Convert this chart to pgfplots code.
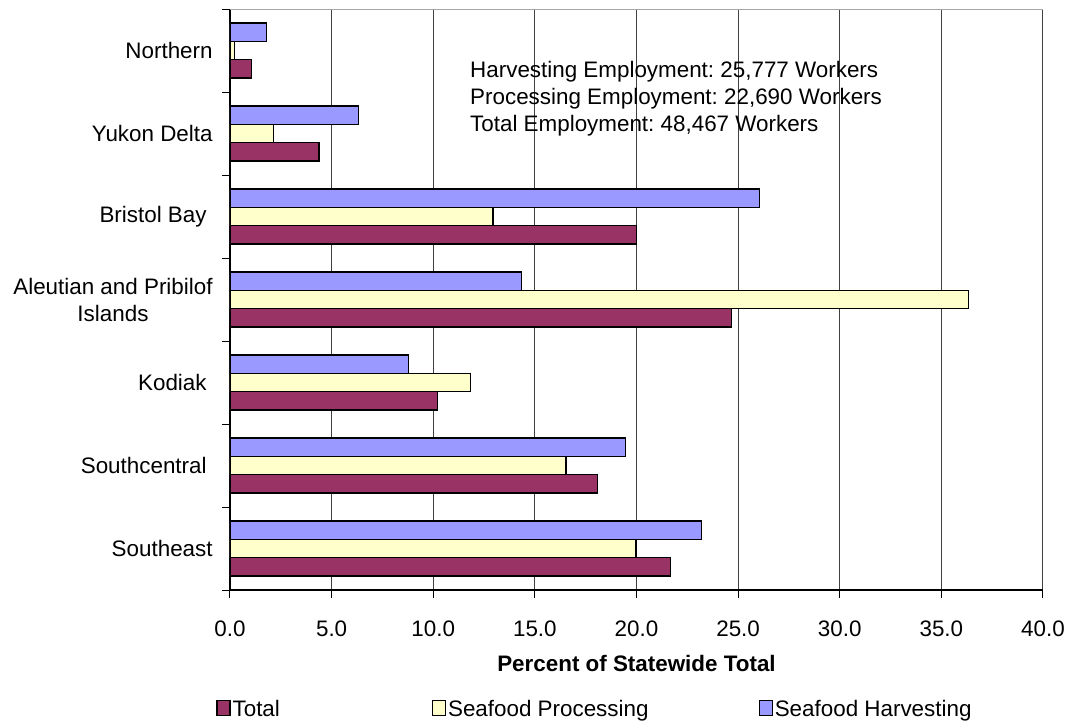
\documentclass[border=0pt]{standalone}
\usepackage{fontspec}
\setmainfont{Liberation Sans}
\usepackage{pgfplots}
\pgfplotsset{compat=1.18}
\definecolor{totc}{HTML}{993366}
\definecolor{proc}{HTML}{FFFFCC}
\definecolor{harc}{HTML}{9999FF}
\begin{document}
\frenchspacing
\fontsize{11.2bp}{13.5bp}\selectfont
\begin{tikzpicture}
\useasboundingbox (-115bp,-66.5bp) rectangle (419.5bp,295bp);
\begin{axis}[
  at={(0,0)}, anchor=south west,
  scale only axis, width=406.5bp, height=290.5bp,
  xmin=0, xmax=40, ymin=-0.5, ymax=6.5,
  xbar,
  axis lines=left,
  axis line style={-, line width=0.6bp, black},
  xtick={0,5,...,40},
  minor xtick={0,5,...,40},
  ytick={0,...,6},
  minor ytick={-0.5,0.5,...,6.5},
  major tick length=0pt,
  minor tick length=4bp,
  tick align=outside,
  tick style={black, line width=0.5bp},
  /pgf/number format/.cd, fixed, fixed zerofill, precision=1, assume math mode=true,
  /pgfplots/.cd,
  xticklabel style={anchor=north, inner sep=0pt, yshift=-15bp},
  yticklabels={Southeast, Southcentral\hspace*{3bp}, Kodiak\hspace*{3bp}, {Aleutian and Pribilof\\Islands}, Bristol Bay\hspace*{3bp}, Yukon Delta, Northern},
  yticklabel style={align=center, anchor=east, inner sep=0pt, xshift=-8.5bp},
  xmajorgrids,
  major grid style={black!75, line width=0.5bp},
  xlabel={Percent of Statewide Total},
  xlabel style={at={(axis description cs:0.5,0)}, anchor=center, yshift=-36.5bp, font=\bfseries},
  legend columns=3,
  legend style={draw=none, fill=none, at={(0.4489,-0.2065)}, anchor=center, inner sep=0pt,
    nodes={inner xsep=1bp, inner ysep=0pt},
    /tikz/column 2/.style={column sep=75bp},
    /tikz/column 4/.style={column sep=54bp}},
  legend image code/.code={\draw[#1,/tikz/.cd, line width=0.6bp] (0bp,-2.9bp) rectangle (6.5bp,4.6bp);},
]
\draw[black!35, line width=0.6bp] (rel axis cs:0,1) -- (rel axis cs:1,1);
\addplot[fill=totc, draw=black, line width=0.6bp, bar width=9.15bp, bar shift=-9.15bp]
  coordinates {(21.68,0) (18.07,1) (10.22,2) (24.66,3) (19.99,4) (4.38,5) (1.07,6)};
\addlegendentry{Total}
\addplot[fill=proc, draw=black, line width=0.6bp, bar width=9.15bp, bar shift=0bp]
  coordinates {(19.98,0) (16.53,1) (11.84,2) (36.35,3) (12.94,4) (2.15,5) (0.21,6)};
\addlegendentry{Seafood Processing}
\addplot[fill=harc, draw=black, line width=0.6bp, bar width=9.15bp, bar shift=9.15bp]
  coordinates {(23.20,0) (19.44,1) (8.79,2) (14.35,3) (26.07,4) (6.34,5) (1.80,6)};
\addlegendentry{Seafood Harvesting}
\node[anchor=west, align=left, inner sep=0pt] at (axis cs:11.8,5.417)
  {Harvesting Employment: 25,777 Workers\\Processing Employment: 22,690 Workers\\Total Employment: 48,467 Workers};
\end{axis}
\end{tikzpicture}
\end{document}
